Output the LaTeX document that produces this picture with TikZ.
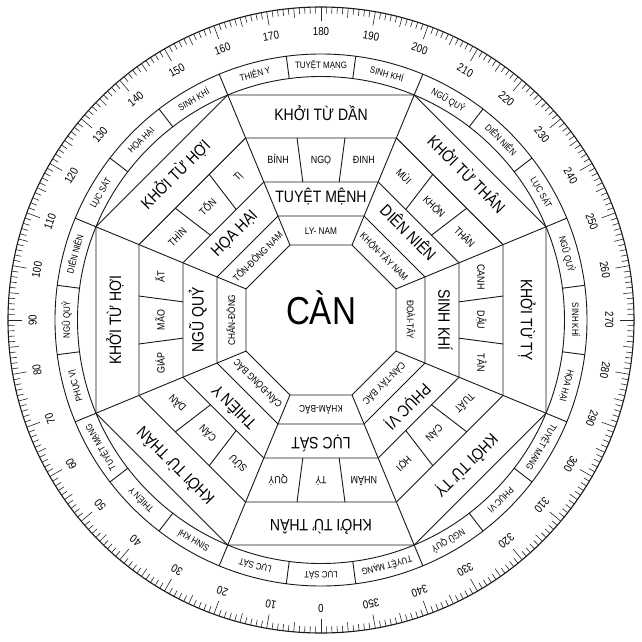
\documentclass[tikz,border=0pt]{standalone}
\usepackage{fontspec}
\setmainfont{Liberation Sans}[FakeStretch=0.85]

\begin{document}
\begin{tikzpicture}[
  x=1pt,y=1pt,
  edge/.style={draw=black!90,line width=.9pt},
  tick/.style={draw=black!85,line width=.6pt},
  label/.style={inner sep=0pt,text height=.72em,text depth=0pt},
  bigname/.style={label,font=\fontsize{39}{39}\selectfont},
  outername/.style={label,font=\fontsize{16.5}{16.5}\selectfont},
  starname/.style={label,font=\fontsize{16.5}{16.5}\selectfont},
  mountain/.style={label,font=\fontsize{10.5}{10.5}\selectfont},
  trigram/.style={label,font=\fontsize{9.7}{9.7}\selectfont},
  ringname/.style={label,font=\fontsize{9.3}{9.3}\selectfont},
  degree/.style={label,font=\fontsize{11.5}{11.5}\selectfont}
]

\fill[white] (-321,-321) rectangle (321,320);
\useasboundingbox (-321,-321) rectangle (321,320);

% degree scale
\draw[edge,line width=1.1pt] (0,0) circle (313pt);
\foreach \d in {0,...,359}{
  \pgfmathsetmacro\len{mod(\d,10)==0 ? 14 : (mod(\d,5)==0 ? 9.5 : 6.5)}
  \draw[tick] (-90-\d:313) -- (-90-\d:{313-\len});
}
\foreach \d in {0,10,...,350}
  \node[degree,rotate=-180-\d] (deg\d) at (-90-\d:288) {\d};

% ring of the 24 directions
\draw[edge] (0,0) circle (243.5pt);
\draw[edge] (0,0) circle (266pt);
\foreach \k in {0,...,23}
  \draw[edge] (7.5+15*\k:243.5) -- (7.5+15*\k:266);
\foreach \t [count=\i from 0] in {LỤC SÁT,LỤC SÁT,SINH KHÍ,THIÊN Y,TUYỆT MẠNG,
    PHỤC VỊ,NGŨ QUỶ,DIÊN NIÊN,LỤC SÁT,HỌA HẠI,SINH KHÍ,THIÊN Y,TUYỆT MẠNG,
    SINH KHÍ,NGŨ QUỶ,DIÊN NIÊN,LỤC SÁT,NGŨ QUỶ,SINH KHÍ,HỌA HẠI,TUYỆT MẠNG,
    PHỤC VỊ,NGŨ QUỶ,TUYỆT MẠNG}
  \node[ringname,rotate=-180-15*\i] (ring\i) at (-90-15*\i:254.8) {\t};

% octagons
\foreach \a in {75,104,138,182,225}
  \draw[edge] (22.5:{\a/0.92388})
    \foreach \k in {1,...,7}{ -- (22.5+45*\k:{\a/0.92388}) } -- cycle;
\foreach \k in {0,...,7}
  \draw[edge] (22.5+45*\k:81.2) -- (22.5+45*\k:243.5);
\foreach \k in {0,...,7}{
  \draw[edge] (45*\k-7.5:139.2) -- (45*\k-7.5:183.6);
  \draw[edge] (45*\k+7.5:139.2) -- (45*\k+7.5:183.6);
}

\node[bigname] (can) at (0,-1) {CÀN};

% sector texts, from the bottom, clockwise
\foreach \t [count=\i from 0] in {KHẢM-BẮC,CẤN-ĐÔNG BẮC,CHẤN-ĐÔNG,TỐN-ĐÔNG NAM,
    LY- NAM,KHÔN-TÂY NAM,ĐOÀI-TÂY,CÀN-TÂY BẮC}
  \node[trigram,rotate=-180-45*\i] (tri\i) at (-90-45*\i:89.5) {\t};
\foreach \t [count=\i from 0] in {LỤC SÁT,THIÊN Y,NGŨ QUỶ,HỌA HẠI,
    TUYỆT MỆNH,DIÊN NIÊN,SINH KHÍ,PHỤC VỊ}
  \node[starname,rotate=-180-45*\i] (star\i) at (-90-45*\i:121) {\t};
\foreach \t [count=\i from 0] in {KHỞI TỪ THÂN,KHỞI TỪ THÂN,KHỞI TỪ HỢI,
    KHỞI TỪ HỢI,KHỞI TỪ DẦN,KHỞI TỪ THÂN,KHỞI TỪ TỴ,KHỞI TỪ TỴ}
  \node[outername,rotate=-180-45*\i] (outer\i) at (-90-45*\i:203.5) {\t};

% the 24 mountains
\foreach \t [count=\i from 0] in {TÝ,QUÝ,SỬU,CẤN,DẦN,GIÁP,MÃO,ẤT,THÌN,TỐN,TỊ,
    BÍNH,NGỌ,ĐINH,MÙI,KHÔN,THÂN,CANH,DẬU,TÂN,TUẤT,CÀN,HỢI,NHÂM}{
  \pgfmathsetmacro\sec{45*round(\i/3)}
  \pgfmathsetmacro\off{15*\i-\sec}
  \node[mountain,rotate=-180-\sec] (mount\i)
    at (-90-15*\i:{160/cos(\off)}) {\t};
}

\end{tikzpicture}
\end{document}
